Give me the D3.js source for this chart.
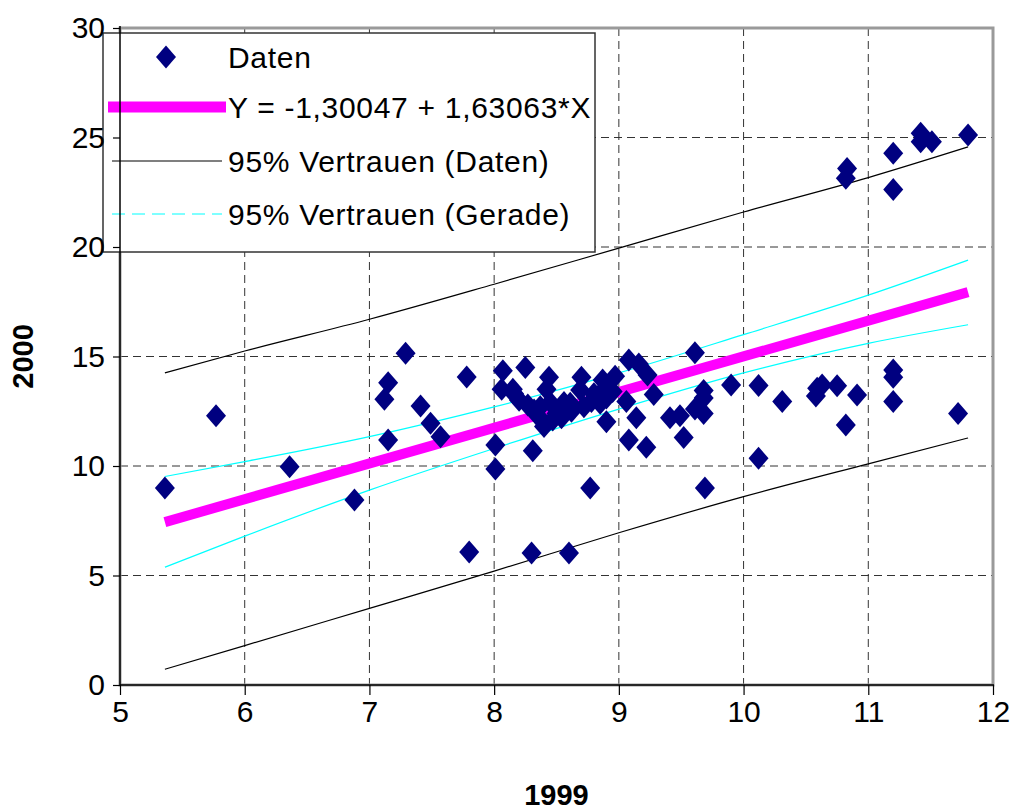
<!DOCTYPE html>
<html>
<head>
<meta charset="utf-8">
<script src="https://cdn.jsdelivr.net/npm/d3@7/dist/d3.min.js"></script>
<style>
  html, body { margin: 0; padding: 0; background: #fff; }
  svg { display: block; font-family: "Liberation Sans", Arial, sans-serif; }
</style>
</head>
<body>
<svg id="chart" width="1013" height="812"></svg>
<script>
// Observations: 1999 value (x) and 2000 value (y)
const xData = [5.36, 5.77, 6.36, 6.88, 7.12, 7.15, 7.15, 7.29, 7.41, 7.49,
  7.57, 7.78, 7.80, 8.01, 8.01, 8.07, 8.06, 8.15, 8.16, 8.25,
  8.44, 8.42, 8.27, 8.32, 8.37, 8.40, 8.50, 8.54, 8.31, 8.30,
  8.60, 8.77, 8.61, 8.70, 8.69, 8.72, 8.80, 8.87, 8.90, 8.90,
  8.85, 8.90, 9.06, 9.08, 9.16, 9.23, 9.28, 9.14, 9.08, 9.22,
  9.41, 9.49, 9.52, 9.61, 9.61, 9.68, 9.68, 9.68, 9.69, 9.90,
  10.12, 10.31, 10.59, 10.58, 10.63, 10.75, 10.91, 10.82, 11.20, 11.20,
  11.20, 11.72, 10.12, 10.83, 10.82, 11.20, 11.20, 11.42, 11.42, 11.51,
  11.80, 8.62, 8.45, 8.20, 8.35, 8.47, 8.56, 8.95, 8.97, 8.78];
const yData = [9.00, 12.30, 9.97, 8.45, 13.05, 13.80, 11.19, 15.15, 12.74, 11.95,
  11.34, 14.06, 6.07, 10.96, 9.86, 14.35, 13.50, 13.50, 13.30, 14.50,
  14.05, 13.50, 12.79, 12.56, 12.71, 11.80, 12.40, 12.20, 10.70, 6.03,
  6.03, 9.00, 12.86, 14.05, 13.47, 12.71, 13.30, 13.93, 13.62, 13.10,
  12.86, 12.02, 12.94, 14.84, 14.66, 14.15, 13.27, 12.20, 11.19, 10.86,
  12.20, 12.30, 11.30, 12.60, 15.17, 13.45, 13.10, 12.40, 9.00, 13.70,
  13.68, 12.94, 13.55, 13.20, 13.70, 13.66, 13.24, 11.87, 14.38, 14.05,
  12.94, 12.40, 10.35, 23.59, 23.14, 24.28, 22.63, 25.19, 24.81, 24.81,
  25.11, 12.50, 12.90, 13.00, 12.30, 12.10, 12.90, 13.40, 14.10, 12.95];

// Fitted line as stated in the legend
const intercept = -1.30047;
const slope = 1.63063;

// 95% bands sampled along x
const bandX = [5.36, 6, 7, 8, 9, 10, 11, 11.8];
const dataUpper = [14.25, 15.25, 16.70, 18.30, 19.95, 21.60, 23.17, 24.57];
const dataLower = [0.72, 1.80, 3.50, 5.20, 6.95, 8.60, 10.10, 11.28];
const lineUpper = [9.52, 10.20, 11.34, 12.70, 14.25, 16.00, 17.80, 19.40];
const lineLower = [5.38, 6.80, 8.90, 10.80, 12.60, 14.25, 15.60, 16.45];

// Axis ticks
const xTicks = [5, 6, 7, 8, 9, 10, 11, 12];
const yTicks = [0, 5, 10, 15, 20, 25, 30];

// Legend text
const legendLabels = ["Daten", "Y = -1,30047 + 1,63063*X", "95% Vertrauen (Daten)", "95% Vertrauen (Gerade)"];
const xTitle = "1999";
const yTitle = "2000";

const svg = d3.select("#chart");
const L = 120, R = 993, T = 28, B = 685;
const x = d3.scaleLinear().domain([5, 12]).range([L, R]);
const y = d3.scaleLinear().domain([0, 30]).range([B, T]);

const navy = "#000080";
const magenta = "#ff00ff";
const cyan = "#00ffff";
const font = "'Liberation Sans', Arial, sans-serif";

// Grid
const grid = svg.append("g");
grid.selectAll("line.h").data(yTicks.filter(v => v > 0 && v < 30)).join("line")
  .attr("x1", L).attr("x2", R).attr("y1", d => y(d)).attr("y2", d => y(d))
  .attr("stroke", "#333").attr("stroke-width", 1).attr("stroke-dasharray", "8,5");
grid.selectAll("line.v").data(xTicks.filter(v => v > 5 && v < 12)).join("line")
  .attr("x1", d => x(d)).attr("x2", d => x(d)).attr("y1", T).attr("y2", B)
  .attr("stroke", "#333").attr("stroke-width", 1).attr("stroke-dasharray", "8,5");

// Plot frame
svg.append("rect").attr("x", L).attr("y", T).attr("width", R - L).attr("height", B - T)
  .attr("fill", "none").attr("stroke", "#9a9a9a").attr("stroke-width", 3);

// Bands
const bandLine = d3.line().x(d => x(d[0])).y(d => y(d[1])).curve(d3.curveMonotoneX);
const drawBand = (vals, color) => svg.append("path")
  .datum(bandX.map((v, i) => [v, vals[i]]))
  .attr("d", bandLine).attr("fill", "none").attr("stroke", color).attr("stroke-width", 1.2);
drawBand(dataUpper, "#000");
drawBand(dataLower, "#000");
drawBand(lineUpper, cyan);
drawBand(lineLower, cyan);

// Regression line
const xExt = d3.extent(xData);
svg.append("path")
  .datum(xExt.map(v => [v, intercept + slope * v]))
  .attr("d", d3.line().x(d => x(d[0])).y(d => y(d[1])))
  .attr("fill", "none").attr("stroke", magenta).attr("stroke-width", 10);

// Data points
const diamond = (cx, cy, w, h) => `M${cx},${cy - h}L${cx + w},${cy}L${cx},${cy + h}L${cx - w},${cy}Z`;
svg.append("g").selectAll("path").data(xData.map((v, i) => [v, yData[i]])).join("path")
  .attr("d", d => diamond(x(d[0]), y(d[1]), 10, 11.5))
  .attr("fill", navy);

// Legend
const lg = svg.append("g");
lg.append("rect").attr("x", 103).attr("y", 33).attr("width", 492).attr("height", 219)
  .attr("fill", "#fff").attr("stroke", "#333").attr("stroke-width", 1.5);
const rowsY = [57, 107, 161, 214];
lg.append("path").attr("d", diamond(166, rowsY[0], 10, 11.5)).attr("fill", navy);
lg.append("line").attr("x1", 108).attr("x2", 226).attr("y1", rowsY[1]).attr("y2", rowsY[1])
  .attr("stroke", magenta).attr("stroke-width", 11);
lg.append("line").attr("x1", 112).attr("x2", 222).attr("y1", rowsY[2]).attr("y2", rowsY[2])
  .attr("stroke", "#000").attr("stroke-width", 1.2);
lg.append("line").attr("x1", 112).attr("x2", 222).attr("y1", rowsY[3]).attr("y2", rowsY[3])
  .attr("stroke", cyan).attr("stroke-width", 1.2).attr("stroke-dasharray", "13,7");
lg.selectAll("text").data(legendLabels).join("text")
  .attr("x", 228).attr("y", (d, i) => rowsY[i] + 11)
  .attr("font-size", 30).attr("letter-spacing", 0.7).attr("fill", "#000").text(d => d);

// Axes lines
svg.append("line").attr("x1", L).attr("x2", L).attr("y1", T - 2).attr("y2", B + 1)
  .attr("stroke", "#000").attr("stroke-width", 1.5);
svg.append("line").attr("x1", L).attr("x2", R + 1).attr("y1", B).attr("y2", B)
  .attr("stroke", "#000").attr("stroke-width", 1.5);

// Ticks and labels
const yAxis = d3.axisLeft(y).tickValues(yTicks).tickSize(7).tickPadding(8).tickFormat(d3.format("d"));
const gy = svg.append("g").attr("transform", `translate(${L},0)`).call(yAxis);
gy.select(".domain").remove();
gy.selectAll("line").attr("stroke", "#000").attr("stroke-width", 1.2);
gy.selectAll("text").attr("font-size", 30).attr("fill", "#000").attr("font-family", font);

const xAxis = d3.axisBottom(x).tickValues(xTicks).tickSize(10).tickPadding(6).tickFormat(d3.format("d"));
const gx = svg.append("g").attr("transform", `translate(0,${B})`).call(xAxis);
gx.select(".domain").remove();
gx.selectAll("line").attr("stroke", "#000").attr("stroke-width", 1.2);
gx.selectAll("text").attr("font-size", 30).attr("fill", "#000").attr("font-family", font);

// Titles
svg.append("text").attr("x", (L + R) / 2).attr("y", 805).attr("text-anchor", "middle")
  .attr("font-size", 29).attr("font-weight", "bold").text(xTitle);
svg.append("text").attr("transform", `translate(33,${(T + B) / 2}) rotate(-90)`)
  .attr("text-anchor", "middle").attr("font-size", 29).attr("font-weight", "bold").text(yTitle);
</script>
</body>
</html>
